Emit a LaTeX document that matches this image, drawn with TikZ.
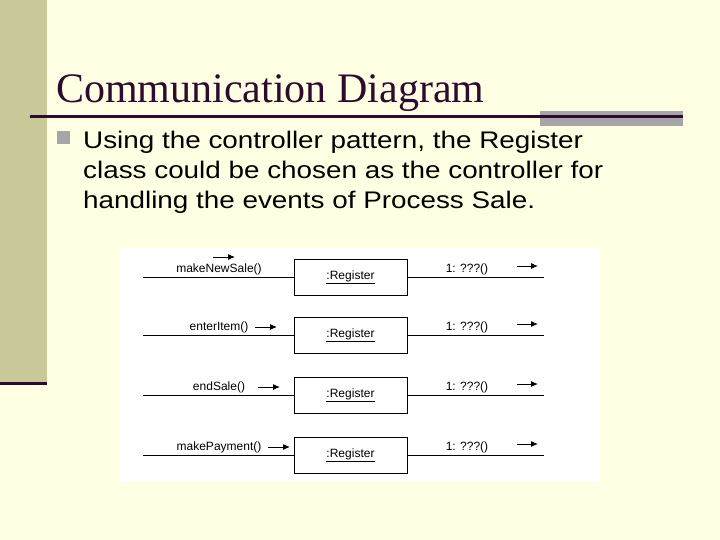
\documentclass[tikz,border=0pt]{standalone}
\usepackage{fontspec}
\setmainfont{Liberation Serif}
\setsansfont{Liberation Sans}
\newfontfamily\widesans[FakeStretch=1.16]{Liberation Sans}
\usetikzlibrary{positioning,arrows.meta}
\definecolor{slidebg}{HTML}{FFFFE3}
\definecolor{sidebar}{HTML}{C8C898}
\definecolor{titlecol}{HTML}{2E0A2E}
\definecolor{rulegray}{HTML}{A6A6A6}
\tikzset{
  objbox/.style={draw, line width=0.8pt, minimum width=113pt, minimum height=36pt, font=\sffamily\fontsize{12}{14}\selectfont},
  msg/.style={font=\sffamily\fontsize{12}{14}\selectfont, inner sep=1pt},
  link/.style={line width=0.9pt},
  flow/.style={-{Latex[length=7pt,width=6pt]}, line width=1pt}
}
\begin{document}
\begin{tikzpicture}[x=1pt, y=-1pt]
   \useasboundingbox (0,0) rectangle (720,540);
   \fill[slidebg] (0,0) rectangle (720,540);
   \fill[sidebar] (0,0) rectangle (47,383);
   \draw[titlecol, line width=3pt] (0,383) -- (47,383);
   \fill[rulegray] (540,111) rectangle (683,126);
   \draw[titlecol, line width=3pt] (30,117) -- (683,117);
   \node[anchor=base west, inner sep=0, text=titlecol, font=\fontsize{42}{46}\selectfont] (title) at (56,103) {Communication Diagram};
   \fill[rulegray] (57,131) rectangle (70,144);
   \foreach \ty/\line in {149/{Using the controller pattern, the Register}, 179/{class could be chosen as the controller for}, 209/{handling the events of Process Sale.}}
     \node[anchor=base west, inner sep=0, font=\widesans\fontsize{24}{30}\selectfont] (body) at (83,\ty) {\line};
   \fill[white] (120,248) rectangle (600,482);
   % rows
   \foreach \y/\name/\lx/\ax in {277/makeNewSale()/219/0, 335/enterItem()/219/255, 395/endSale()/219/258, 455/makePayment()/219/268} {
     \node[objbox] (reg) at (350.5,\y) {\underline{:Register}};
     \coordinate (inL) at (143,\y);
     \coordinate (outR) at (544,\y);
     \draw[link] (inL) -- (reg.west);
     \draw[link] (reg.east) -- (outR);
     \node[msg, anchor=base] (call) at (\lx,\y-5) {\name};
     \node[msg, anchor=base] (reply) at (467,\y-5) {1: ???()};
     \coordinate (r1) at (517,\y-11);
     \coordinate (r2) at (538,\y-11);
     \draw[flow] (r1) -- (r2);
     \ifnum\ax>0
       \coordinate (a1) at (\ax,\y-8);
       \coordinate (a2) at (\ax+22,\y-8);
     \else
       \coordinate (a1) at (213,\y-20);
       \coordinate (a2) at (235,\y-20);
     \fi
     \draw[flow] (a1) -- (a2);
   }
\end{tikzpicture}
\end{document}
